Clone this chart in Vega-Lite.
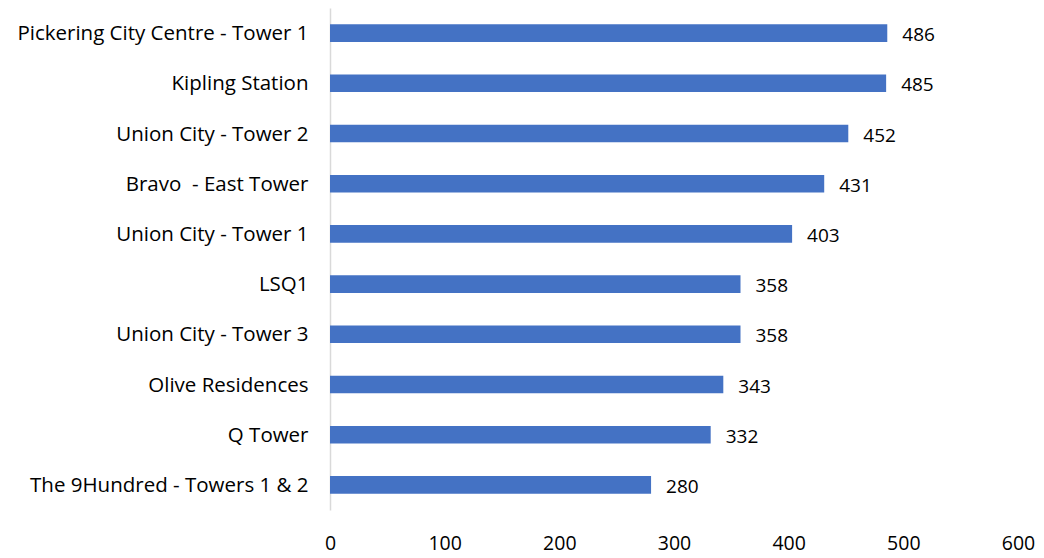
{
  "$schema": "https://vega.github.io/schema/vega-lite/v6.json",
  "autosize": {"type": "none"},
  "padding": {"left": 330, "top": 8, "right": 26, "bottom": 48},
  "width": 688,
  "height": 502,
  "background": "white",
  "data": {"values": [
    {"name": "Pickering City Centre - Tower 1", "value": 486},
    {"name": "Kipling Station", "value": 485},
    {"name": "Union City - Tower 2", "value": 452},
    {"name": "Bravo\u00a0 - East Tower", "value": 431},
    {"name": "Union City - Tower 1", "value": 403},
    {"name": "LSQ1", "value": 358},
    {"name": "Union City - Tower 3", "value": 358},
    {"name": "Olive Residences", "value": 343},
    {"name": "Q Tower", "value": 332},
    {"name": "The 9Hundred - Towers 1 & 2", "value": 280}
  ]},
  "config": {"view": {"stroke": null}, "font": "Open Sans"},
  "encoding": {
    "y": {"field": "name", "type": "nominal", "sort": null, "title": null,
      "scale": {"paddingInner": 0.65, "paddingOuter": 0.325},
      "axis": {"domainColor": "#D9D9D9", "domainWidth": 1.5, "ticks": false, "labelFontSize": 20.5, "labelColor": "#000000", "labelPadding": 22, "labelFont": "Open Sans", "labelLimit": 400, "labelBaseline": "middle", "labelOffset": 1}},
    "x": {"field": "value", "type": "quantitative", "title": null,
      "scale": {"domain": [0, 600], "nice": false},
      "axis": {"values": [0, 100, 200, 300, 400, 500, 600], "domain": false, "ticks": false, "grid": false, "labelFontSize": 19.5, "labelColor": "#000000", "labelPadding": 24, "labelFont": "Open Sans", "labelFlush": false}}
  },
  "layer": [
    {"mark": {"type": "bar", "color": "#4472C4"}},
    {"mark": {"type": "text", "align": "left", "baseline": "middle", "dx": 15, "dy": 2, "fontSize": 19, "color": "#000000", "font": "Open Sans"},
     "encoding": {"text": {"field": "value", "type": "quantitative"}}}
  ]
}
